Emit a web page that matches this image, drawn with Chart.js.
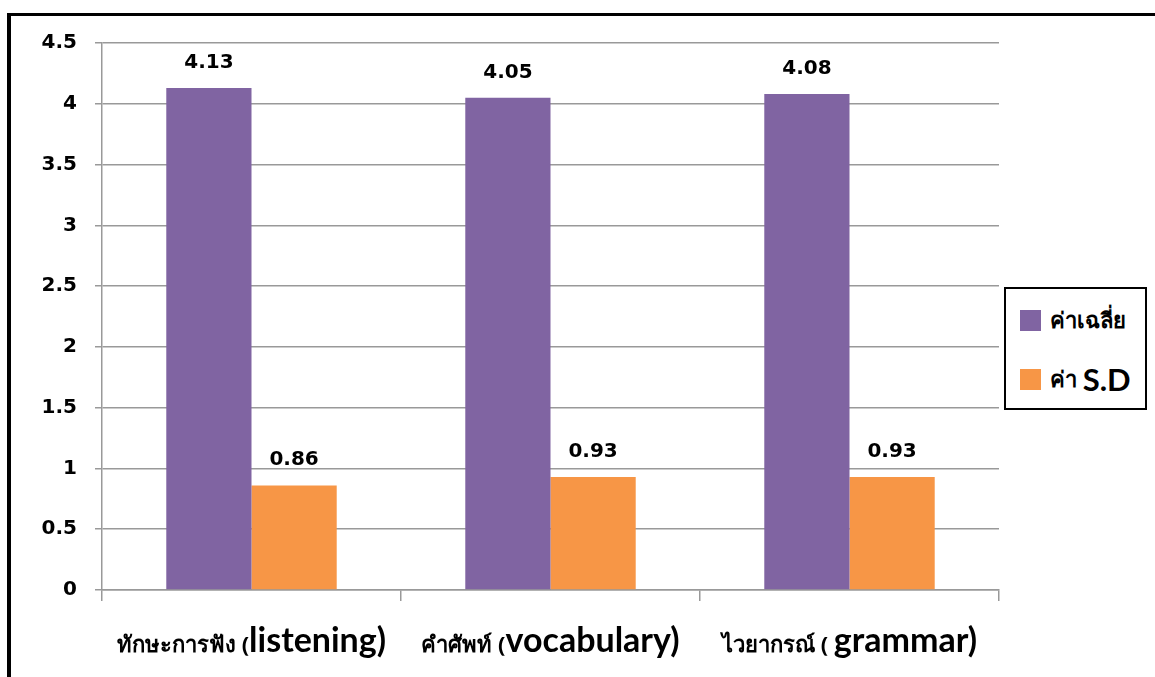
<!DOCTYPE html>
<html>
<head>
<meta charset="utf-8">
<script src="https://cdn.jsdelivr.net/npm/chart.js@4.4.0/dist/chart.umd.min.js"></script>
<style>
  html, body { margin: 0; padding: 0; background: #fff; overflow: hidden; }
  #frame { position: absolute; left: 7px; top: 13px; width: 1300px; height: 800px;
           border-top: 3px solid #000; border-left: 4px solid #000; }
  #wrap { position: absolute; left: 0; top: 0; width: 1155px; height: 677px; }
  #legend { position: absolute; left: 1004px; top: 287px; width: 139px; height: 119px;
            border: 2px solid #000; background: #fff; }
  .item { position: absolute; left: 14px; height: 24px; display: flex; align-items: center; white-space: nowrap; }
  .swatch { width: 21px; height: 21px; margin-right: 9px; flex: none; }
  .th { font: bold 22px "Noto Sans", "DejaVu Sans", sans-serif; }
  .en { font: bold 31px Lato, sans-serif; }
</style>
</head>
<body>
<div id="frame"></div>
<div id="wrap"><canvas id="chart" width="1155" height="677"></canvas></div>
<div id="legend"></div>
<script>
var categories = [ 'ทักษะการฟัง (listening)', 'คำศัพท์ (vocabulary)', 'ไวยากรณ์ ( grammar)' ];
var seriesNames = [ 'ค่าเฉลี่ย', 'ค่า S.D' ];
var meanValues = [ 4.13, 4.05, 4.08 ];
var sdValues = [ 0.86, 0.93, 0.93 ];
var seriesColors = [ '#8064A2', '#F79646' ];
var yMax = 4.5;
var yStep = 0.5;

var THAI_FONT = '"Noto Sans", "DejaVu Sans", sans-serif';
var LATIN_FONT = 'Lato, sans-serif';
var NUM_FONT = 'bold 20px "DejaVu Sans"';

// split text into thai / latin runs so each gets its own font
function splitRuns( s ) {
	return s.match( /[A-Za-z.)]+|[^A-Za-z.)]+/g ).map( function( t ) {
		return { text: t, latin: /^[A-Za-z.)]+$/.test( t ) };
	} );
}

var xLabelPlugin = {
	id: 'xLabels',
	afterDraw: function( chart ) {
		var ctx = chart.ctx;
		var scale = chart.scales.x;
		ctx.save();
		ctx.fillStyle = '#000';
		ctx.textBaseline = 'alphabetic';
		ctx.textAlign = 'left';
		categories.forEach( function( label, i ) {
			var runs = splitRuns( label );
			var total = 0;
			runs.forEach( function( r ) {
				ctx.font = r.latin ? 'bold 34px ' + LATIN_FONT : 'bold 22px ' + THAI_FONT;
				r.w = ctx.measureText( r.text ).width;
				total += r.w;
			} );
			var x = scale.getPixelForValue( i ) - total / 2;
			runs.forEach( function( r ) {
				ctx.font = r.latin ? 'bold 34px ' + LATIN_FONT : 'bold 22px ' + THAI_FONT;
				ctx.fillText( r.text, x, 652 );
				x += r.w;
			} );
		} );
		ctx.restore();
	}
};

var valueLabelPlugin = {
	id: 'valueLabels',
	afterDatasetsDraw: function( chart ) {
		var ctx = chart.ctx;
		ctx.save();
		ctx.font = NUM_FONT;
		ctx.fillStyle = '#000';
		ctx.textAlign = 'center';
		ctx.textBaseline = 'alphabetic';
		chart.data.datasets.forEach( function( ds, i ) {
			chart.getDatasetMeta( i ).data.forEach( function( bar, j ) {
				ctx.fillText( ds.data[ j ].toFixed( 2 ), bar.x, bar.y - 20 );
			} );
		} );
		ctx.restore();
	}
};

var chart = new Chart( document.getElementById( 'chart' ), {
	type: 'bar',
	data: {
		labels: categories,
		datasets: [
			{ label: seriesNames[ 0 ], data: meanValues, backgroundColor: seriesColors[ 0 ] },
			{ label: seriesNames[ 1 ], data: sdValues, backgroundColor: seriesColors[ 1 ] }
		]
	},
	options: {
		responsive: false,
		animation: false,
		devicePixelRatio: 1,
		layout: { padding: { top: 43, right: 156, bottom: 0, left: 0 }, autoPadding: false },
		categoryPercentage: 0.57,
		barPercentage: 1.0,
		plugins: {
			legend: { display: false },
			tooltip: { enabled: false }
		},
		scales: {
			x: {
				grid: { drawOnChartArea: false, drawTicks: true, tickLength: 11, color: '#999', lineWidth: 1.5 },
				border: { color: '#999', width: 1.5 },
				ticks: { display: false },
				afterFit: function( scale ) { scale.height = 87; }
			},
			y: {
				min: 0,
				max: yMax,
				ticks: {
					stepSize: yStep,
					font: { family: 'DejaVu Sans', size: 20, weight: 'bold' },
					color: '#000',
					padding: 18,
					callback: function( v ) { return String( v ); }
				},
				grid: { color: '#999', lineWidth: 1.5, tickLength: 7 },
				border: { color: '#999', width: 1.5 },
				afterFit: function( scale ) { scale.width = 102; }
			}
		}
	},
	plugins: [ xLabelPlugin, valueLabelPlugin ]
} );

// html legend built from the datasets
var legend = document.getElementById( 'legend' );
chart.data.datasets.forEach( function( ds, i ) {
	var item = document.createElement( 'div' );
	item.className = 'item';
	item.style.top = ( i === 0 ? 19 : 78 ) + 'px';
	var sw = document.createElement( 'span' );
	sw.className = 'swatch';
	sw.style.background = ds.backgroundColor;
	item.appendChild( sw );
	splitRuns( ds.label ).forEach( function( r ) {
		var s = document.createElement( 'span' );
		s.className = r.latin ? 'en' : 'th';
		s.textContent = r.text;
		s.style.whiteSpace = 'pre';
		item.appendChild( s );
	} );
	legend.appendChild( item );
} );
</script>
</body>
</html>
